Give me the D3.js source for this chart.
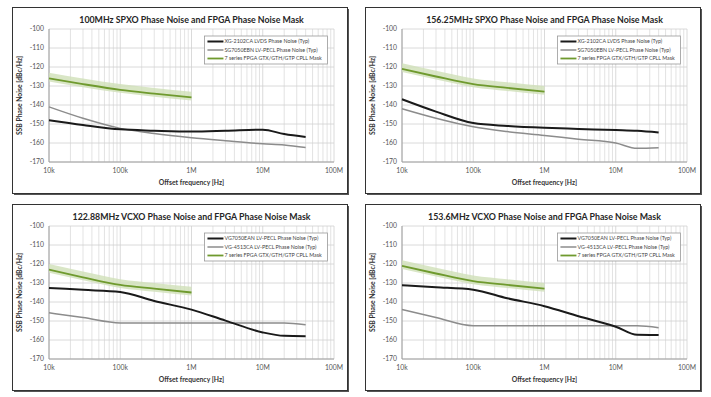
<!DOCTYPE html>
<html>
<head>
<meta charset="utf-8">
<script src="https://cdn.jsdelivr.net/npm/d3@7"></script>
<style>
  body { margin: 0; background: #fff; }
  text { font-family: Lato, 'Open Sans', sans-serif; }
</style>
</head>
<body>
<svg id="chart"></svg>
<script>
// offset frequencies (Hz) the curves are read at
const freqs = [1e4, 3e4, 1e5, 3e5, 1e6, 3e6, 1e7, 2e7, 4e7];
const maskFreqs = [1e4, 3e4, 1e5, 3e5, 1e6];

const xTicks = [1e4, 1e5, 1e6, 1e7, 1e8];
const xTickLabels = ['10k', '100k', '1M', '10M', '100M'];
const yTicks = [-100, -110, -120, -130, -140, -150, -160, -170];

const titles = [
  '100MHz SPXO Phase Noise and FPGA Phase Noise Mask',
  '156.25MHz SPXO Phase Noise and FPGA Phase Noise Mask',
  '122.88MHz VCXO Phase Noise and FPGA Phase Noise Mask',
  '153.6MHz VCXO Phase Noise and FPGA Phase Noise Mask'
];
const spxoNames = ['XG-2102CA LVDS Phase Noise (Typ)', 'SG7050EBN LV-PECL Phase Noise (Typ)', '7 series FPGA GTX/GTH/GTP CPLL Mask'];
const vcxoNames = ['VG7050EAN LV-PECL Phase Noise (Typ)', 'VG-4513CA LV-PECL Phase Noise (Typ)', '7 series FPGA GTX/GTH/GTP CPLL Mask'];

// dBc/Hz values
const spxo100Black = [-148, -150.5, -152.8, -153.5, -154, -153.6, -153, -155.3, -156.8];
const spxo100Gray  = [-141, -147, -152.3, -155, -157.2, -158.8, -160.4, -161, -162.4];
const spxo100Mask  = [-126, -129, -132, -134, -136];

const spxo156Black = [-137, -143.5, -149.5, -151, -152, -152.6, -153.2, -153.6, -154.5];
const spxo156Gray  = [-142, -147, -151.5, -154, -156, -158, -160, -162.8, -162.5];
const spxo156Mask  = [-121, -125, -129, -131, -133];

const vcxo122Black = [-132.6, -133.6, -134.7, -139.5, -144, -149.8, -156, -157.8, -158];
const vcxo122Gray  = [-145.7, -148.2, -151, -151, -151, -151, -151, -151, -152];
const vcxo122Mask  = [-123, -127, -131, -133, -135];

const vcxo153Black = [-131.2, -132.2, -133.5, -138, -142.2, -147.5, -153, -157.3, -157.4];
const vcxo153Gray  = [-144, -148.2, -152.5, -152.5, -152.5, -152.5, -152.5, -152.5, -153.5];
const vcxo153Mask  = [-121, -125, -129, -131, -133];

const panels = [
  { title: titles[0], names: spxoNames, black: spxo100Black, gray: spxo100Gray, mask: spxo100Mask },
  { title: titles[1], names: spxoNames, black: spxo156Black, gray: spxo156Gray, mask: spxo156Mask },
  { title: titles[2], names: vcxoNames, black: vcxo122Black, gray: vcxo122Gray, mask: vcxo122Mask },
  { title: titles[3], names: vcxoNames, black: vcxo153Black, gray: vcxo153Gray, mask: vcxo153Mask }
];

const width = 711, height = 397;
const panelW = 335, panelH = 186;
const origins = [[12, 7], [365, 7], [12, 204], [365, 204]];
const plot = { left: 37, top: 22, width: 285, height: 133 };

const svg = d3.select('#chart')
  .attr('width', width)
  .attr('height', height)
  .attr('viewBox', [0, 0, width, height]);

const x = d3.scaleLog([1e4, 1e8], [0, plot.width]);
const y = d3.scaleLinear([-170, -100], [plot.height, 0]);

// minor log grid: 2..9 of every decade
const minorTicks = [];
[1e4, 1e5, 1e6, 1e7].forEach(d => { for (let k = 2; k <= 9; k++) minorTicks.push(d * k); });

const line = d3.line()
  .x(d => x(d[0]))
  .y(d => y(d[1]))
  .curve(d3.curveMonotoneX);

panels.forEach((p, i) => {
  const [ox, oy] = origins[i];
  const g = svg.append('g').attr('transform', `translate(${ox},${oy})`);

  // frame with a small shadow
  g.append('rect')
    .attr('x', 2).attr('y', 2)
    .attr('width', panelW).attr('height', panelH)
    .attr('fill', '#555');
  g.append('rect')
    .attr('x', 0.5).attr('y', 0.5)
    .attr('width', panelW).attr('height', panelH)
    .attr('fill', '#fff')
    .attr('stroke', '#333');

  g.append('text')
    .attr('x', plot.left + plot.width / 2)
    .attr('y', 16)
    .attr('text-anchor', 'middle')
    .attr('font-size', 8.8)
    .attr('font-weight', 'bold')
    .attr('fill', '#262626')
    .text(p.title);

  const pg = g.append('g').attr('transform', `translate(${plot.left},${plot.top})`);

  // grid
  pg.append('g')
    .selectAll('line')
    .data(minorTicks)
    .join('line')
      .attr('x1', d => x(d)).attr('x2', d => x(d))
      .attr('y1', 0).attr('y2', plot.height)
      .attr('stroke', '#dcdcdc')
      .attr('stroke-width', 0.8);
  pg.append('g')
    .selectAll('line')
    .data(xTicks)
    .join('line')
      .attr('x1', d => x(d)).attr('x2', d => x(d))
      .attr('y1', 0).attr('y2', plot.height)
      .attr('stroke', '#d0d0d0')
      .attr('stroke-width', 0.8);
  pg.append('g')
    .selectAll('line')
    .data(yTicks)
    .join('line')
      .attr('x1', 0).attr('x2', plot.width)
      .attr('y1', d => y(d)).attr('y2', d => y(d))
      .attr('stroke', '#d0d0d0')
      .attr('stroke-width', 0.8);

  // axes
  pg.append('line')
    .attr('x1', 0).attr('x2', 0).attr('y1', 0).attr('y2', plot.height)
    .attr('stroke', '#a0a0a0');
  pg.append('line')
    .attr('x1', 0).attr('x2', plot.width).attr('y1', plot.height).attr('y2', plot.height)
    .attr('stroke', '#a0a0a0');

  pg.append('g')
    .selectAll('text')
    .data(yTicks)
    .join('text')
      .attr('x', -5)
      .attr('y', d => y(d))
      .attr('dy', '0.35em')
      .attr('text-anchor', 'end')
      .attr('font-size', 6.8)
      .attr('fill', '#555')
      .text(d => d);

  pg.append('g')
    .selectAll('text')
    .data(xTicks)
    .join('text')
      .attr('x', d => x(d))
      .attr('y', plot.height + 11)
      .attr('text-anchor', 'middle')
      .attr('font-size', 6.8)
      .attr('fill', '#555')
      .text((d, j) => xTickLabels[j]);

  pg.append('text')
    .attr('x', plot.width / 2)
    .attr('y', plot.height + 23)
    .attr('text-anchor', 'middle')
    .attr('font-size', 6.8)
    .attr('font-weight', 'bold')
    .attr('fill', '#333')
    .text('Offset frequency [Hz]');

  pg.append('text')
    .attr('transform', `translate(-27,${plot.height / 2}) rotate(-90)`)
    .attr('text-anchor', 'middle')
    .attr('font-size', 6.8)
    .attr('font-weight', 'bold')
    .attr('fill', '#333')
    .text('SSB Phase Noise [dBc/Hz]');

  // mask band (soft glow above the green line)
  const maskPts = maskFreqs.map((f, j) => [f, p.mask[j]]);
  pg.append('path')
    .datum(maskPts)
    .attr('fill', '#cfe0b8')
    .attr('opacity', 0.8)
    .attr('d', d3.area()
      .x(d => x(d[0]))
      .y0(d => y(d[1] - 1.6))
      .y1(d => y(d[1] + 3))
      .curve(d3.curveMonotoneX));

  const grayPts = freqs.map((f, j) => [f, p.gray[j]]);
  const blackPts = freqs.map((f, j) => [f, p.black[j]]);

  pg.append('path').datum(grayPts)
    .attr('fill', 'none').attr('stroke', '#8c8c8c').attr('stroke-width', 1.5)
    .attr('d', line);
  pg.append('path').datum(blackPts)
    .attr('fill', 'none').attr('stroke', '#1a1a1a').attr('stroke-width', 2)
    .attr('d', line);
  pg.append('path').datum(maskPts)
    .attr('fill', 'none').attr('stroke', '#6f9a2e').attr('stroke-width', 1.8)
    .attr('d', line);

  // legend
  const lg = pg.append('g').attr('transform', `translate(${x(1.1e6) + 10},7)`);
  lg.append('rect')
    .attr('x', 0).attr('y', 0)
    .attr('width', 123).attr('height', 28)
    .attr('fill', '#fff')
    .attr('stroke', '#999')
    .attr('stroke-width', 0.8);
  const legendColors = ['#1a1a1a', '#8c8c8c', '#6f9a2e'];
  const legendWidths = [2, 1.5, 1.8];
  p.names.forEach((name, j) => {
    const ly = 5.5 + j * 8.5;
    lg.append('line')
      .attr('x1', 3).attr('x2', 19)
      .attr('y1', ly).attr('y2', ly)
      .attr('stroke', legendColors[j])
      .attr('stroke-width', legendWidths[j]);
    lg.append('text')
      .attr('x', 20)
      .attr('y', ly)
      .attr('dy', '0.35em')
      .attr('font-size', 5.3)
      .attr('fill', '#444')
      .text(name);
  });
});
</script>
</body>
</html>
